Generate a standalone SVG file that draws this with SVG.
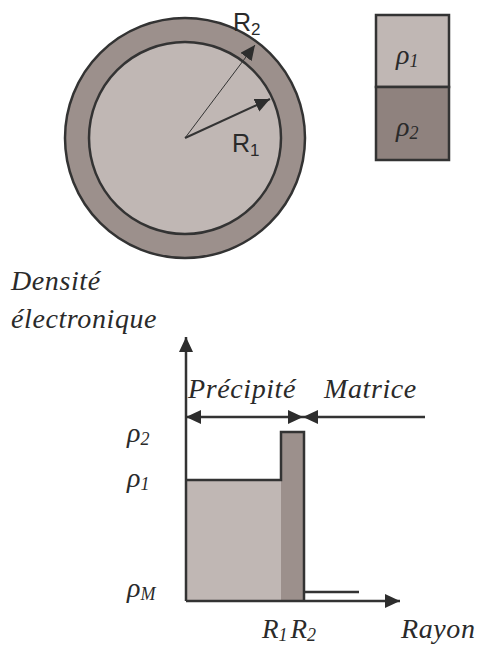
<svg xmlns="http://www.w3.org/2000/svg" width="478" height="650" viewBox="0 0 478 650">
<style>
.ser{font-family:"Liberation Serif","Times New Roman",serif;font-style:italic;fill:#2a2a2a}
.lbl{font-size:28px;letter-spacing:0.6px}
.rho{font-size:28px}
.sub{font-size:18px}
.san{font-family:"Liberation Sans",Arial,sans-serif;fill:#2a2a2a;font-size:25px}
.ln{stroke:#333;stroke-width:2.5;fill:none}
</style>
<defs>
<marker id="ah" markerUnits="userSpaceOnUse" markerWidth="16" markerHeight="14" refX="15" refY="7" orient="auto">
<path d="M0,0 L15,7 L0,14 z" fill="#2d2d2d"/>
</marker>
</defs>
<g id="sphere">
<circle cx="185" cy="138" r="120" fill="#9c908c" stroke="#333" stroke-width="2.5"/>
<circle cx="185" cy="138" r="96" fill="#c0b7b4" stroke="#333" stroke-width="2.5"/>
</g>
<g id="legend">
<rect x="376" y="15" width="73" height="72" fill="#c0b7b4" stroke="#333" stroke-width="2.5"/>
<rect x="376" y="87" width="73" height="73" fill="#8f827e" stroke="#333" stroke-width="2.5"/>
<text class="ser rho" x="396" y="64">ρ<tspan class="sub" dy="3">1</tspan></text>
<text class="ser rho" x="396" y="136">ρ<tspan class="sub" dy="3">2</tspan></text>
</g>
<g id="profile">
<rect x="186" y="480" width="95" height="121" fill="#c0b7b4"/>
<rect x="281" y="432" width="23" height="169" fill="#9c908c"/>
<path class="ln" d="M185,480 H281 V432 H304 V601"/>
<path class="ln" d="M304,592 H359"/>
</g>
<g id="connectors">
<line x1="185" y1="138" x2="255" y2="45" stroke="#333" stroke-width="1" marker-end="url(#ah)"/>
<line x1="185" y1="138" x2="270" y2="99" stroke="#333" stroke-width="2" marker-end="url(#ah)"/>
<line x1="186" y1="601" x2="186" y2="337" class="ln" marker-end="url(#ah)"/>
<line x1="186" y1="601" x2="400" y2="601" class="ln" marker-end="url(#ah)"/>
<line x1="240" y1="417" x2="186" y2="417" class="ln" marker-end="url(#ah)"/>
<line x1="240" y1="417" x2="303" y2="417" class="ln" marker-end="url(#ah)"/>
<line x1="425" y1="417" x2="303" y2="417" class="ln" marker-end="url(#ah)"/>
</g>
<g id="labels">
<text class="san" x="233" y="31">R<tspan font-size="17" dy="4">2</tspan></text>
<text class="san" x="232" y="152">R<tspan font-size="17" dy="4">1</tspan></text>
<text class="ser lbl" x="11" y="290">Densité</text>
<text class="ser lbl" x="11" y="328">électronique</text>
<text class="ser lbl" x="188" y="398">Précipité</text>
<text class="ser lbl" x="324" y="398">Matrice</text>
<text class="ser rho" x="127" y="442">ρ<tspan class="sub" dy="3">2</tspan></text>
<text class="ser rho" x="127" y="487">ρ<tspan class="sub" dy="3">1</tspan></text>
<text class="ser rho" x="127" y="597">ρ<tspan class="sub" dy="3">M</tspan></text>
<text class="ser" x="262" y="638" font-size="27">R<tspan class="sub" dy="3">1</tspan><tspan dy="-3" dx="3">R</tspan><tspan class="sub" dy="3">2</tspan></text>
<text class="ser lbl" x="401" y="638">Rayon</text>
</g>
</svg>
